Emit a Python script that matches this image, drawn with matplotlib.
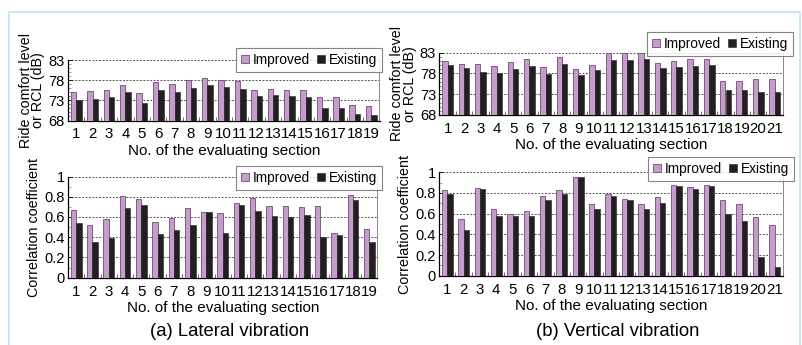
import numpy as np
import matplotlib
matplotlib.use('Agg')
import matplotlib.pyplot as plt
from matplotlib.patches import Rectangle
from matplotlib.ticker import MultipleLocator

plt.rcParams['font.family'] = ['Liberation Sans', 'DejaVu Sans']

# lateral vibration, ride comfort level (dB)
lat_rcl_improved = [75.0, 75.3, 75.6, 76.8, 74.8, 77.5, 77.1, 78.0, 78.5, 78.0,
                    77.8, 75.6, 75.8, 75.5, 75.5, 73.8, 73.8, 71.8, 71.6]
lat_rcl_existing = [73.0, 73.3, 73.8, 75.1, 72.4, 75.6, 75.1, 76.1, 76.8, 76.3,
                    75.8, 74.1, 74.3, 74.1, 73.8, 71.1, 71.1, 69.6, 69.4]
# vertical vibration, ride comfort level (dB)
ver_rcl_improved = [81.0, 80.3, 80.2, 79.75, 80.7, 81.4, 79.5, 81.9, 79.1, 80.0, 83.0,
                    83.0, 83.0, 80.5, 81.0, 81.5, 81.5, 76.1, 76.1, 76.7, 76.7]
ver_rcl_existing = [80.1, 79.35, 78.4, 78.1, 79.1, 79.8, 77.9, 80.3, 77.7, 78.9, 81.25,
                    81.25, 81.5, 79.35, 79.6, 79.8, 80.1, 73.9, 74.1, 73.6, 73.6]
# correlation coefficients
lat_cor_improved = [0.667, 0.523, 0.583, 0.803, 0.777, 0.553, 0.587, 0.693, 0.653, 0.64,
                    0.743, 0.783, 0.713, 0.71, 0.703, 0.71, 0.443, 0.813, 0.483]
lat_cor_existing = [0.537, 0.357, 0.39, 0.69, 0.717, 0.427, 0.467, 0.517, 0.647, 0.437,
                    0.717, 0.657, 0.607, 0.597, 0.617, 0.40, 0.417, 0.767, 0.357]
ver_cor_improved = [0.826, 0.545, 0.845, 0.642, 0.597, 0.623, 0.768, 0.826, 0.952, 0.697, 0.787,
                    0.742, 0.69, 0.758, 0.874, 0.855, 0.874, 0.732, 0.69, 0.565, 0.487]
ver_cor_existing = [0.787, 0.439, 0.835, 0.574, 0.574, 0.574, 0.729, 0.787, 0.952, 0.645, 0.768,
                    0.732, 0.645, 0.70, 0.868, 0.839, 0.868, 0.597, 0.529, 0.18, 0.087]

rcl_ticks = [68, 73, 78, 83]
cor_ticks = [0, 0.2, 0.4, 0.6, 0.8, 1]
cor_labels = ['0', '0.2', '0.4', '0.6', '0.8', '1']

W, H = 803, 345
fig = plt.figure(figsize=(W / 100, H / 100), dpi=100)

# light blue frame round the figure
fig.patches.append(Rectangle((9 / W, -0.01), 791 / W, 1 - 12 / H + 0.01, transform=fig.transFigure,
                             fill=False, edgecolor='#bfe3f2', linewidth=1.2))

c_imp = '#c59dca'
c_imp_edge = '#6e4c73'
c_ex = '#231f20'


def px_axes(l, r, t, b):
    return fig.add_axes([l / W, 1 - b / H, (r - l) / W, (b - t) / H])


def panel(ax, imp, ex, ticks, ylim, ylabel, minor, tlabels=None, leg_xy=None):
    n = len(imp)
    x = np.arange(1, n + 1)
    w = 0.33
    ax.bar(x - w / 2, imp, w, color=c_imp, edgecolor=c_imp_edge, linewidth=0.6, label='Improved', zorder=3)
    ax.bar(x + w / 2, ex, w, color=c_ex, edgecolor=c_ex, linewidth=0.4, label='Existing', zorder=3)
    ax.set_xlim(0.5, n + 0.5)
    ax.set_ylim(*ylim)
    ax.set_yticks(ticks)
    if tlabels:
        ax.set_yticklabels(tlabels)
    ax.yaxis.set_minor_locator(MultipleLocator(minor))
    ax.set_xticks(x)
    ax.set_xticks(np.arange(1.5, n, 1), minor=True)
    ax.tick_params(axis='x', which='major', length=0, pad=5, labelsize=10.8)
    ax.tick_params(axis='x', which='minor', direction='in', length=3, width=0.6, color='#555555')
    ax.tick_params(axis='y', which='major', direction='in', length=3, width=0.6, pad=2.5, labelsize=10.5)
    ax.tick_params(axis='y', which='minor', direction='in', length=2, width=0.5, color='#777777')
    for t in ticks[1:]:
        ax.axhline(t, color='#555555', linestyle=(0, (2, 1.5)), linewidth=0.7, zorder=1)
    ax.spines['top'].set_visible(False)
    ax.spines['right'].set_color('#888888')
    ax.spines['right'].set_linewidth(0.7)
    ax.spines['left'].set_linewidth(0.9)
    ax.spines['bottom'].set_linewidth(0.9)
    ax.set_xlabel('No. of the evaluating section', fontsize=11, labelpad=1.5)
    ax.set_ylabel(ylabel, fontsize=10.3, labelpad=2, linespacing=0.9)
    leg = ax.legend(loc='upper right', bbox_to_anchor=(leg_xy[0] / W, 1 - leg_xy[1] / H),
                    bbox_transform=fig.transFigure, ncol=2, fontsize=9.9, frameon=True,
                    fancybox=False, edgecolor='#666666', handlelength=0.6, handleheight=0.6,
                    handletextpad=0.25, columnspacing=0.55, borderpad=0.35, borderaxespad=0)
    leg.get_frame().set_linewidth(0.8)
    leg.set_zorder(5)


ax1 = px_axes(68, 379.5, 60, 120.5)
panel(ax1, lat_rcl_improved, lat_rcl_existing, rcl_ticks, (68, 83),
      'Ride comfort level\nor RCL (dB)', 1, leg_xy=(382, 48))
ax2 = px_axes(439.5, 782.7, 52.7, 115)
panel(ax2, ver_rcl_improved, ver_rcl_existing, rcl_ticks, (68, 83),
      'Ride comfort level\nor RCL (dB)', 1, leg_xy=(793, 32))
ax3 = px_axes(68, 377.5, 176.5, 277.7)
panel(ax3, lat_cor_improved, lat_cor_existing, cor_ticks, (0, 1),
      'Correlation coefficient', 0.1, cor_labels, leg_xy=(382, 166))
ax4 = px_axes(439, 782.7, 172.3, 275.7)
panel(ax4, ver_cor_improved, ver_cor_existing, cor_ticks, (0, 1),
      'Correlation coefficient', 0.1, cor_labels, leg_xy=(794, 157))

fig.text(230 / W, 1 - 332 / H, '(a) Lateral vibration', ha='center', va='center', fontsize=13.3)
fig.text(618 / W, 1 - 332 / H, '(b) Vertical vibration', ha='center', va='center', fontsize=13.3)

fig.savefig('out.png', dpi=100)
